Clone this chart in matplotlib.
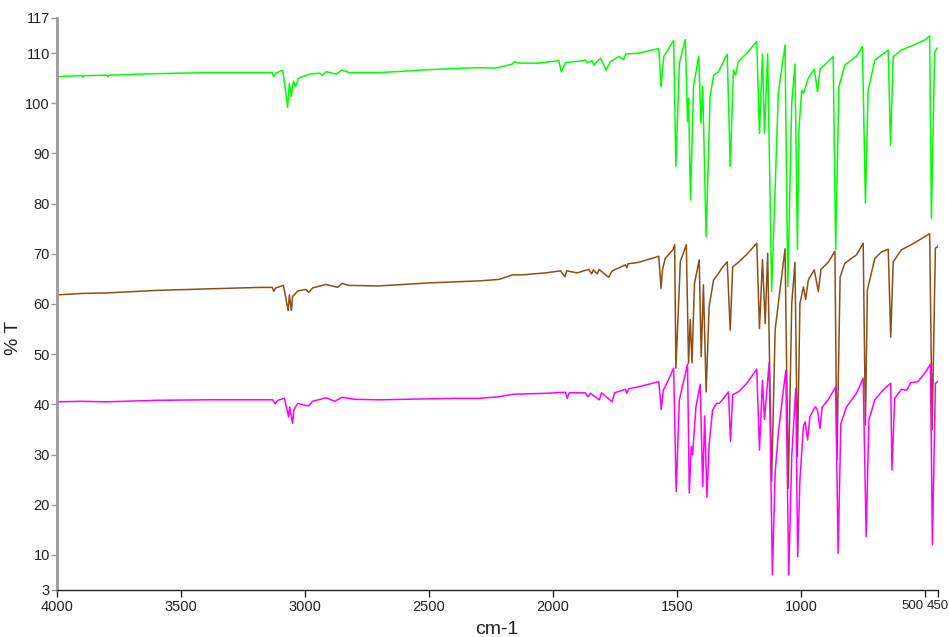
import matplotlib
matplotlib.use("Agg")
import matplotlib.pyplot as plt
import matplotlib.transforms as mtransforms

# ---- data (wavenumber cm-1, %T) ----
wn_green = [4000, 3900, 3895, 3890, 3800, 3795, 3790, 3600, 3400, 3183, 3132, 3126, 3118, 3090, 3070, 3063, 3056, 3047, 3039, 3025, 2982, 2942, 2929, 2915, 2875, 2851, 2821, 2701, 2600, 2500, 2400, 2298, 2231, 2164, 2158, 2138, 2057, 1977, 1967, 1950, 1910, 1869, 1862, 1843, 1836, 1809, 1786, 1769, 1735, 1715, 1708, 1655, 1574, 1565, 1554, 1514, 1505, 1491, 1467, 1458, 1454, 1446, 1434, 1413, 1404, 1397, 1383, 1367, 1353, 1333, 1313, 1298, 1286, 1273, 1265, 1253, 1219, 1179, 1168, 1156, 1148, 1135, 1119, 1092, 1065, 1054, 1038, 1025, 1015, 1009, 998, 991, 971, 947, 934, 924, 891, 871, 861, 848, 824, 777, 753, 741, 730, 703, 649, 640, 629, 596, 556, 502, 482, 475, 462, 450]
t_green = [105.3, 105.5, 105.2, 105.5, 105.6, 105.3, 105.6, 105.9, 106.1, 106.1, 106.1, 105.3, 106.0, 106.6, 99.2, 104.0, 101.3, 104.4, 103.3, 105.0, 105.8, 106.0, 105.6, 106.3, 105.8, 106.6, 106.1, 106.1, 106.4, 106.7, 106.9, 107.1, 107.0, 107.8, 108.3, 108.0, 108.0, 108.5, 106.3, 108.1, 108.3, 108.6, 108.0, 108.5, 107.6, 109.0, 106.6, 108.3, 109.3, 108.7, 109.8, 110.0, 110.9, 103.3, 109.3, 112.5, 87.4, 108.0, 112.7, 96.3, 101.0, 80.7, 103.3, 109.4, 96.0, 103.3, 73.4, 101.3, 105.6, 106.3, 108.3, 109.8, 87.4, 106.6, 105.6, 108.3, 110.0, 112.3, 94.0, 109.8, 94.0, 109.8, 62.5, 102.0, 111.6, 63.5, 100.0, 107.8, 70.9, 94.7, 102.6, 102.0, 105.0, 106.8, 102.3, 106.8, 108.3, 109.3, 70.8, 103.3, 107.6, 109.4, 111.3, 80.1, 102.6, 108.6, 110.6, 91.6, 109.3, 110.6, 111.4, 112.6, 113.4, 77.1, 110.3, 111.0]

wn_brown = [4000, 3900, 3800, 3600, 3400, 3183, 3132, 3126, 3118, 3087, 3068, 3063, 3055, 3050, 3029, 2996, 2985, 2969, 2915, 2868, 2851, 2821, 2701, 2600, 2500, 2400, 2298, 2218, 2164, 2124, 2030, 1970, 1952, 1945, 1903, 1856, 1845, 1838, 1822, 1815, 1776, 1762, 1708, 1703, 1698, 1655, 1574, 1565, 1559, 1548, 1517, 1510, 1505, 1487, 1463, 1454, 1447, 1440, 1430, 1411, 1403, 1394, 1383, 1371, 1353, 1333, 1320, 1298, 1286, 1276, 1253, 1219, 1179, 1168, 1156, 1145, 1135, 1119, 1105, 1092, 1065, 1052, 1038, 1025, 1015, 1005, 991, 982, 971, 947, 931, 920, 891, 864, 856, 843, 824, 777, 750, 741, 733, 703, 676, 649, 639, 629, 596, 556, 502, 482, 472, 459, 450]
t_brown = [61.8, 62.1, 62.2, 62.7, 63.0, 63.3, 63.3, 62.5, 63.2, 63.7, 58.7, 61.8, 58.7, 61.5, 62.6, 62.9, 62.3, 63.2, 63.9, 63.3, 64.1, 63.7, 63.6, 63.9, 64.2, 64.4, 64.6, 64.9, 65.8, 65.8, 66.2, 66.6, 65.4, 66.6, 66.2, 66.9, 66.0, 66.8, 66.0, 66.9, 65.3, 66.6, 67.8, 67.2, 68.0, 68.3, 69.5, 63.1, 66.8, 69.1, 70.8, 71.8, 47.2, 68.5, 71.8, 48.2, 56.9, 48.3, 64.1, 68.8, 49.5, 63.8, 42.5, 59.5, 64.8, 66.1, 67.1, 68.4, 54.8, 67.4, 68.3, 69.9, 72.1, 55.1, 68.8, 56.1, 70.1, 24.6, 54.8, 60.1, 71.0, 23.3, 60.1, 68.3, 29.6, 60.1, 63.4, 60.9, 64.8, 66.8, 62.5, 66.9, 68.3, 70.5, 28.9, 65.4, 68.1, 69.8, 72.1, 35.9, 62.8, 69.1, 70.4, 70.9, 53.4, 68.4, 70.8, 71.8, 73.4, 74.0, 34.9, 71.1, 71.5]

wn_magenta = [4000, 3900, 3800, 3600, 3400, 3183, 3130, 3120, 3110, 3083, 3066, 3062, 3050, 3045, 3029, 3000, 2985, 2970, 2915, 2880, 2851, 2800, 2701, 2600, 2500, 2400, 2298, 2218, 2164, 2030, 1950, 1943, 1935, 1870, 1860, 1850, 1813, 1805, 1762, 1752, 1708, 1703, 1695, 1655, 1574, 1564, 1556, 1548, 1514, 1504, 1491, 1458, 1451, 1443, 1438, 1424, 1407, 1397, 1389, 1380, 1371, 1357, 1340, 1330, 1313, 1293, 1285, 1276, 1253, 1219, 1179, 1168, 1156, 1148, 1129, 1116, 1105, 1092, 1062, 1050, 1038, 1022, 1014, 1005, 991, 984, 974, 965, 944, 935, 924, 915, 891, 861, 851, 840, 817, 777, 750, 738, 727, 703, 669, 639, 634, 623, 596, 575, 558, 530, 502, 479, 471, 459, 450]
t_magenta = [40.5, 40.6, 40.5, 40.8, 40.9, 40.9, 40.9, 40.1, 40.8, 41.2, 37.5, 39.5, 36.2, 38.9, 40.2, 39.8, 39.7, 40.6, 41.3, 40.6, 41.4, 41.0, 40.9, 41.0, 41.1, 41.2, 41.2, 41.5, 42.0, 42.2, 42.4, 41.2, 42.3, 42.3, 41.5, 42.2, 40.9, 42.3, 40.5, 42.3, 43.0, 42.2, 43.1, 43.5, 44.5, 39.0, 42.8, 43.5, 47.2, 22.6, 40.9, 48.0, 22.3, 31.6, 29.9, 39.5, 44.0, 23.6, 37.7, 21.5, 32.0, 38.9, 40.2, 40.2, 41.2, 42.5, 32.6, 41.9, 42.5, 44.2, 47.0, 30.9, 44.8, 37.0, 48.3, 6.0, 26.3, 34.3, 46.8, 6.0, 29.6, 43.2, 9.6, 24.9, 35.6, 36.5, 32.9, 37.5, 39.5, 39.0, 35.2, 39.5, 40.9, 43.5, 10.3, 36.2, 39.5, 42.2, 45.2, 13.6, 36.9, 40.9, 42.9, 44.2, 26.9, 41.2, 43.0, 42.8, 44.3, 44.5, 46.2, 48.0, 12.0, 44.2, 44.5]

x_ticks = [4000, 3500, 3000, 2500, 2000, 1500, 1000, 500, 450]
y_ticks = [3, 10, 20, 30, 40, 50, 60, 70, 80, 90, 100, 110, 117]

plt.rcParams['font.family'] = ['Liberation Sans', 'DejaVu Sans']

fig = plt.figure(figsize=(9.49, 6.37), dpi=100)
ax = fig.add_axes([0.060, 0.0738, 0.928, 0.898])

ax.plot(wn_green, t_green, color='#00ff00', lw=1.1)
ax.plot(wn_brown, t_brown, color='#8b4f17', lw=1.1)
ax.plot(wn_magenta, t_magenta, color='#ff00ff', lw=1.1)

ax.set_xlim(4000, 450)
ax.set_ylim(3, 117)
ax.set_xticks(x_ticks)
ax.set_xticklabels([str(v) for v in x_ticks])
ax.set_yticks(y_ticks)
ax.set_yticklabels([str(v) for v in y_ticks])

for s in ['top', 'right']:
    ax.spines[s].set_visible(False)
ax.spines['left'].set_color('#999999')
ax.spines['left'].set_linewidth(2)
ax.spines['bottom'].set_color('#222222')
ax.spines['bottom'].set_linewidth(1)
ax.tick_params(axis='y', direction='out', length=4, width=1, colors='#999999',
               labelcolor='#222222', labelsize=10.5, pad=1)
ax.tick_params(axis='x', direction='out', length=5, width=1, colors='#222222',
               labelcolor='#222222', labelsize=10.5, pad=2)

# crowded 500 / 450 labels at the right end (they touch in the reference)
labels = ax.get_xticklabels()
labels[-2].set_horizontalalignment('right')
labels[-2].set_fontsize(9.5)
labels[-2].set_transform(labels[-2].get_transform() +
                         mtransforms.ScaledTranslation(-1.5 / 100, 0, fig.dpi_scale_trans))
labels[-1].set_horizontalalignment('left')
labels[-1].set_fontsize(9.5)
labels[-1].set_transform(labels[-1].get_transform() +
                         mtransforms.ScaledTranslation(-10.5 / 100, 0, fig.dpi_scale_trans))

ax.set_xlabel('cm-1', fontsize=14, color='#222222', labelpad=5)
ax.set_ylabel('% T', fontsize=14, color='#222222')
ax.yaxis.set_label_coords(-0.040, 0.44)

fig.savefig('out.png', dpi=100)
